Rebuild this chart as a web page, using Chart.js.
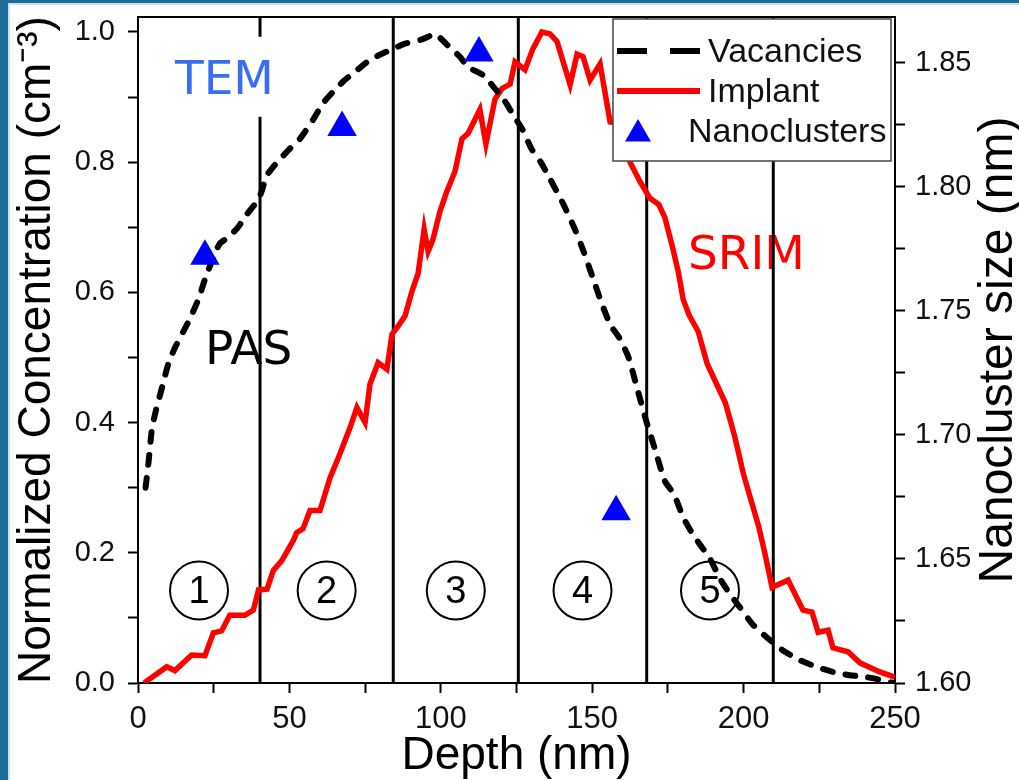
<!DOCTYPE html>
<html>
<head>
<meta charset="utf-8">
<script src="https://cdn.jsdelivr.net/npm/chart.js@4.4.1/dist/chart.umd.min.js"></script>
<style>
  html, body { margin: 0; padding: 0; background: #fff; }
  canvas { display: block; }
</style>
</head>
<body>
<canvas id="chart" width="1019" height="780"></canvas>
<script>
// PAS vacancy profile (normalized)
const vacDepth = [2.5, 3.5, 4.6, 6, 8, 10, 12.2, 15, 17.2, 20, 22.1, 25, 27, 30, 33, 36, 40, 42.6, 46, 50,
  53.5, 57.8, 61, 64.4, 68, 72, 76, 79.9, 84.2, 88.2, 94.1, 98.1, 100, 103, 106.3, 109, 113.9, 117.9,
  121, 124, 127, 130, 133, 136, 140, 144, 147, 150, 153, 156, 159, 162, 165, 168, 171, 174, 177, 180,
  183, 186, 189, 192, 195, 198.8, 203, 207.7, 213, 218.6, 224, 229.5, 235, 240.7, 245, 249.3];
const vacConc = [0.30, 0.34, 0.39, 0.42, 0.455, 0.49, 0.515, 0.54, 0.56, 0.59, 0.62, 0.655, 0.675, 0.685, 0.70, 0.72, 0.745, 0.78, 0.80, 0.82,
  0.836, 0.865, 0.89, 0.908, 0.925, 0.94, 0.955, 0.965, 0.974, 0.982, 0.989, 0.997, 0.99, 0.976, 0.962, 0.946, 0.934, 0.913,
  0.895, 0.872, 0.85, 0.82, 0.80, 0.775, 0.74, 0.70, 0.665, 0.625, 0.585, 0.55, 0.53, 0.50, 0.45, 0.40, 0.355, 0.31, 0.29, 0.255,
  0.23, 0.21, 0.19, 0.162, 0.14, 0.116, 0.09, 0.07, 0.05, 0.035, 0.025, 0.017, 0.012, 0.009, 0.005, 0.0];

// SRIM implant profile (normalized)
const implantDepth = [2, 5, 9.5, 12.2, 17.7, 22.1, 24.9, 27.6, 30.3, 35.3, 38.1, 39.8, 42.6, 44.7, 47.5, 51.3, 52.4, 54.5,
  56.8, 60.1, 63.4, 66.7, 70, 72.3, 75, 76.6, 79.3, 82.2, 83.9, 85.9, 88.2, 90.5, 92.5, 94.5, 95.8, 97.4, 99.7, 102,
  104.7, 107, 109, 112.9, 114.9, 117.9, 120.2, 122.9, 124.5, 127.8, 130.4, 133.4, 136.1, 138.4, 142.7, 145, 147, 149.3,
  152.6, 155.9, 158, 160, 162.5, 165.8, 169, 172, 174, 176.5, 178.5, 180, 182, 185, 188, 191, 194, 197, 200, 202.5,
  205, 207, 209.4, 214.7, 219.6, 222.6, 224.6, 227.9, 229.5, 234.5, 238.4, 245, 250];
const implantConc = [0.0, 0.01, 0.025, 0.019, 0.043, 0.042, 0.077, 0.08, 0.104, 0.104, 0.112, 0.143, 0.144, 0.173, 0.188, 0.219, 0.231, 0.237,
  0.265, 0.265, 0.315, 0.352, 0.392, 0.423, 0.40, 0.459, 0.492, 0.482, 0.536, 0.548, 0.564, 0.602, 0.629, 0.697, 0.663, 0.681, 0.724, 0.755,
  0.786, 0.836, 0.844, 0.881, 0.828, 0.897, 0.913, 0.92, 0.954, 0.942, 0.974, 1.0, 0.997, 0.985, 0.919, 0.966, 0.962, 0.926,
  0.951, 0.862, 0.86, 0.84, 0.80, 0.77, 0.745, 0.735, 0.715, 0.67, 0.63, 0.59, 0.565, 0.54, 0.49, 0.46, 0.43, 0.38, 0.32, 0.28,
  0.24, 0.20, 0.147, 0.158, 0.112, 0.109, 0.078, 0.081, 0.054, 0.048, 0.031, 0.017, 0.009];

// TEM nanocluster size (nm), right axis
const nanoDepth = [22.1, 67.4, 112.6, 157.9];
const nanoSize = [1.772, 1.824, 1.854, 1.669];

// region boundaries (nm) and their labels
const regionBounds = [40.3, 84.3, 125.6, 168.0, 209.8];
const regionLabels = ['1', '2', '3', '4', '5'];

const depthTickLabels = ['0', '50', '100', '150', '200', '250'];
const concTickLabels = ['0.0', '0.2', '0.4', '0.6', '0.8', '1.0'];
const sizeTickLabels = ['1.60', '1.65', '1.70', '1.75', '1.80', '1.85'];

const seriesNames = ['Vacancies', 'Implant', 'Nanoclusters'];

const toPoints = (xs, ys) => xs.map((x, i) => ({ x, y: ys[i] }));

const FONT = '"Liberation Sans", Arial, sans-serif';
const HAND = '"Comic Sans MS", "DejaVu Sans", sans-serif';
Chart.defaults.font.family = FONT;
Chart.defaults.color = '#111';

const decorPlugin = {
  id: 'decor',
  beforeDraw(chart) {
    const { ctx, width, height } = chart;
    ctx.save();
    ctx.fillStyle = '#fff';
    ctx.fillRect(0, 0, width, height);
    // slide frame
    ctx.fillStyle = '#cfe2ee';
    ctx.fillRect(0, 0, width, 5);
    ctx.fillRect(0, 0, 10, height);
    ctx.fillStyle = '#1e6c9b';
    ctx.fillRect(0, 0, width, 3);
    ctx.fillRect(0, 0, 8, height);
    ctx.restore();
  },
  beforeDatasetsDraw(chart) {
    const { ctx, chartArea: a, scales } = chart;
    const x = scales.x, y = scales.y;
    ctx.save();
    // SRIM label (behind the region line)
    ctx.font = '47px ' + HAND;
    ctx.fillStyle = '#ff0000';
    ctx.textAlign = 'left';
    ctx.textBaseline = 'alphabetic';
    ctx.fillText('SRIM', x.getPixelForValue(181.6), y.getPixelForValue(0.636));

    // region separators
    ctx.strokeStyle = '#000';
    ctx.lineWidth = 3;
    regionBounds.forEach(d => {
      const px = x.getPixelForValue(d);
      ctx.beginPath();
      ctx.moveTo(px, a.top);
      ctx.lineTo(px, a.bottom);
      ctx.stroke();
    });

    // TEM label on a white patch
    const tx = x.getPixelForValue(12.2), ty = y.getPixelForValue(0.905);
    ctx.fillStyle = '#fff';
    ctx.fillRect(tx - 4, ty - 57, 110, 80);
    ctx.font = '47px ' + HAND;
    ctx.fillStyle = '#3a6ef2';
    ctx.fillText('TEM', tx, ty);

    ctx.fillStyle = '#000';
    ctx.fillText('PAS', x.getPixelForValue(22.1), y.getPixelForValue(0.49));

    // circled region numbers
    ctx.lineWidth = 2;
    ctx.font = '38px ' + FONT;
    ctx.textAlign = 'center';
    ctx.textBaseline = 'middle';
    const cy = y.getPixelForValue(0.142);
    regionBounds.forEach((d, i) => {
      const prev = i === 0 ? 0 : regionBounds[i - 1];
      const cx = x.getPixelForValue((prev + d) / 2);
      ctx.beginPath();
      ctx.arc(cx, cy, 29, 0, Math.PI * 2);
      ctx.stroke();
      ctx.fillText(regionLabels[i], cx, cy + 2);
    });
    ctx.restore();
  },
  afterDatasetsDraw(chart) {
    const { ctx, chartArea: a } = chart;
    ctx.save();
    // top frame line
    ctx.strokeStyle = '#000';
    ctx.lineWidth = 2;
    ctx.beginPath();
    ctx.moveTo(a.left, a.top);
    ctx.lineTo(a.right, a.top);
    ctx.stroke();

    // legend box
    const lx = a.right - 282, ly = a.top + 2, lw = 278, lh = 142;
    ctx.fillStyle = '#fff';
    ctx.fillRect(lx, ly, lw, lh);
    ctx.strokeStyle = '#444';
    ctx.lineWidth = 1.5;
    ctx.strokeRect(lx, ly, lw, lh);

    ctx.font = '34px ' + FONT;
    ctx.fillStyle = '#111';
    ctx.textAlign = 'left';
    ctx.textBaseline = 'alphabetic';

    ctx.lineWidth = 6;
    ctx.strokeStyle = '#000';
    ctx.setLineDash([30, 23]);
    ctx.beginPath();
    ctx.moveTo(lx + 4, ly + 32);
    ctx.lineTo(lx + 87, ly + 32);
    ctx.stroke();
    ctx.setLineDash([]);
    ctx.fillText(seriesNames[0], lx + 95, ly + 43);

    ctx.strokeStyle = '#ff0000';
    ctx.beginPath();
    ctx.moveTo(lx + 4, ly + 72);
    ctx.lineTo(lx + 87, ly + 72);
    ctx.stroke();
    ctx.fillText(seriesNames[1], lx + 95, ly + 83);

    const r = 15, tcx = lx + 25, tcy = ly + 115;
    ctx.fillStyle = '#0000ff';
    ctx.beginPath();
    ctx.moveTo(tcx, tcy - r);
    ctx.lineTo(tcx + r * Math.sin(2 * Math.PI / 3), tcy - r * Math.cos(2 * Math.PI / 3));
    ctx.lineTo(tcx + r * Math.sin(4 * Math.PI / 3), tcy - r * Math.cos(4 * Math.PI / 3));
    ctx.closePath();
    ctx.fill();
    ctx.fillStyle = '#111';
    ctx.fillText(seriesNames[2], lx + 75, ly + 123);
    ctx.restore();
  },
  afterDraw(chart) {
    // right axis title, reading bottom to top
    const { ctx, chartArea: a } = chart;
    ctx.save();
    ctx.translate(1012, (a.top + a.bottom) / 2);
    ctx.rotate(-Math.PI / 2);
    ctx.font = '48px ' + FONT;
    ctx.fillStyle = '#000';
    ctx.textAlign = 'center';
    ctx.textBaseline = 'alphabetic';
    ctx.fillText('Nanocluster size (nm)', 0, 0);
    ctx.restore();
  }
};

const tickGrid = { drawOnChartArea: false, color: '#000', tickLength: 10, tickWidth: 2 };
const axisBorder = { color: '#000', width: 2 };

// keep the plot box where the reference has it
function fixBox(size, horizontal) {
  return scale => {
    if (horizontal) scale.height = size; else scale.width = size;
    scale.paddingTop = 0;
    scale.paddingBottom = 0;
    scale.paddingLeft = 0;
    scale.paddingRight = 0;
  };
}

new Chart(document.getElementById('chart').getContext('2d'), {
  type: 'scatter',
  data: {
    datasets: [
      {
        label: seriesNames[2],
        data: toPoints(nanoDepth, nanoSize),
        yAxisID: 'y1',
        pointStyle: 'triangle',
        pointRadius: 17,
        backgroundColor: '#0000ff',
        borderWidth: 0,
        showLine: false
      },
      {
        label: seriesNames[0],
        data: toPoints(vacDepth, vacConc),
        yAxisID: 'y',
        showLine: true,
        borderColor: '#000',
        borderWidth: 6,
        borderDash: [10, 13],
        borderCapStyle: 'round',
        pointRadius: 0,
        tension: 0.2
      },
      {
        label: seriesNames[1],
        data: toPoints(implantDepth, implantConc),
        yAxisID: 'y',
        showLine: true,
        borderColor: '#ff0000',
        borderWidth: 5.5,
        pointRadius: 0,
        tension: 0
      }
    ]
  },
  options: {
    responsive: false,
    devicePixelRatio: 1,
    animation: false,
    layout: { padding: { top: 15, left: 0, right: 0, bottom: 0 } },
    plugins: {
      legend: { display: false },
      tooltip: { enabled: false }
    },
    scales: {
      x: {
        type: 'linear',
        position: 'bottom',
        min: 0,
        max: 250,
        grid: tickGrid,
        border: axisBorder,
        ticks: {
          stepSize: 25,
          includeBounds: false,
          autoSkip: false,
          maxRotation: 0,
          padding: 8,
          color: '#111',
          font: { size: 31 },
          callback(v) {
            const s = String(Math.round(v));
            return depthTickLabels.includes(s) ? s : '';
          }
        },
        title: {
          display: true,
          text: 'Depth (nm)',
          color: '#000',
          font: { size: 46, lineHeight: 1 },
          padding: { top: 0, bottom: 1 }
        },
        afterFit: fixBox(97, true)
      },
      y: {
        type: 'linear',
        position: 'left',
        min: 0,
        max: 1.023,
        grid: tickGrid,
        border: axisBorder,
        ticks: {
          stepSize: 0.1,
          includeBounds: false,
          autoSkip: false,
          padding: 13,
          color: '#111',
          font: { size: 29 },
          callback(v) {
            const s = v.toFixed(1);
            return concTickLabels.includes(s) ? s : '';
          }
        },
        title: {
          display: true,
          text: 'Normalized Concentration (cm\u207B\u00B3)',
          color: '#000',
          font: { size: 46, lineHeight: 1 },
          padding: { top: 14, bottom: 0 }
        },
        afterFit: fixBox(138, false)
      },
      y1: {
        type: 'linear',
        position: 'right',
        min: 1.6,
        max: 1.8685,
        grid: tickGrid,
        border: axisBorder,
        ticks: {
          stepSize: 0.025,
          includeBounds: false,
          autoSkip: false,
          padding: 10,
          color: '#111',
          font: { size: 29 },
          callback(v) {
            const s = v.toFixed(2);
            return sizeTickLabels.includes(s) ? s : '';
          }
        },
        afterFit: fixBox(124, false)
      }
    }
  },
  plugins: [decorPlugin]
});
</script>
</body>
</html>
